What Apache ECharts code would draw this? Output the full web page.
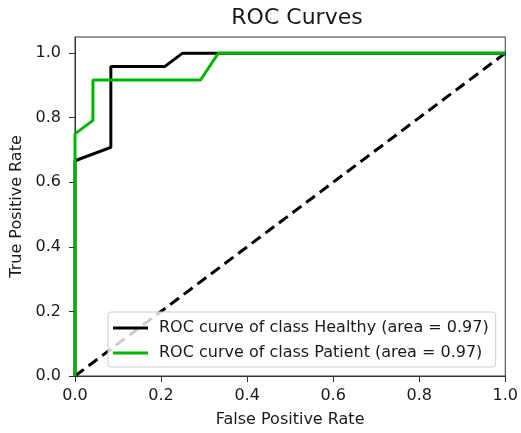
<!DOCTYPE html>
<html>
<head>
<meta charset="utf-8">
<script src="https://cdn.jsdelivr.net/npm/echarts@6/dist/echarts.min.js"></script>
<style>
  html, body { margin: 0; padding: 0; background: #fff; }
  #chart { width: 521px; height: 433px; }
</style>
</head>
<body>
<div id="chart"></div>
<script>
// ROC curve points per class (false positive rate, true positive rate)
const healthyFpr = [0, 0, 0.0833, 0.0833, 0.2083, 0.25, 1.0];
const healthyTpr = [0, 0.6667, 0.7083, 0.9583, 0.9583, 1.0, 1.0];
const patientFpr = [0, 0, 0.0417, 0.0417, 0.2917, 0.3333, 1.0];
const patientTpr = [0, 0.75, 0.7917, 0.9167, 0.9167, 1.0, 1.0];
const chanceLine = [[0, 0], [1, 1]];

const seriesNames = [
  'ROC curve of class Healthy (area = 0.97)',
  'ROC curve of class Patient (area = 0.97)'
];
const tickValues = [0, 0.2, 0.4, 0.6, 0.8, 1.0];

const zip = (xs, ys) => xs.map((x, i) => [x, ys[i]]);
const FONT = 'DejaVu Sans';
const TEXT = '#1a1a1a';

const chart = echarts.init(document.getElementById('chart'));
chart.setOption({
  animation: false,
  textStyle: { fontFamily: FONT },
  title: {
    text: 'ROC Curves',
    left: 292, top: 2, textAlign: 'center',
    textStyle: { fontFamily: FONT, fontSize: 22, fontWeight: 'normal', color: TEXT }
  },
  grid: {
    left: 75, right: 13, top: 37, bottom: 57,
    show: true, borderColor: '#333', borderWidth: 1, backgroundColor: 'transparent'
  },
  xAxis: {
    type: 'value', min: 0, max: 1, interval: 0.2,
    name: 'False Positive Rate', nameLocation: 'middle', nameGap: 36,
    nameTextStyle: { fontFamily: FONT, fontSize: 16, color: TEXT },
    axisLine: { show: true, onZero: false, lineStyle: { color: '#333', width: 1 } },
    axisTick: { show: true, inside: false, length: 6, lineStyle: { color: '#333' } },
    axisLabel: { fontFamily: FONT, fontSize: 16, color: TEXT, margin: 12,
                 formatter: v => v.toFixed(1) },
    splitLine: { show: false }
  },
  yAxis: {
    type: 'value', min: 0, max: 1.05, interval: 0.2,
    name: 'True Positive Rate', nameLocation: 'middle', nameGap: 48, nameRotate: 90,
    nameTextStyle: { fontFamily: FONT, fontSize: 16, color: TEXT },
    axisLine: { show: true, onZero: false, lineStyle: { color: '#333', width: 1 } },
    axisTick: { show: true, inside: false, length: 6, lineStyle: { color: '#333' },
                customValues: tickValues },
    axisLabel: { fontFamily: FONT, fontSize: 16, color: TEXT, margin: 14,
                 customValues: tickValues, formatter: v => v.toFixed(1) },
    splitLine: { show: false }
  },
  legend: {
    orient: 'vertical',
    left: 108, top: 312,
    data: seriesNames.map(n => ({ name: n, icon: 'rect' })),
    itemWidth: 35, itemHeight: 3, itemGap: 9,
    padding: [8, 7, 6, 5],
    backgroundColor: 'rgba(255,255,255,0.8)',
    borderColor: '#cccccc', borderWidth: 1, borderRadius: 3,
    textStyle: { fontFamily: FONT, fontSize: 16, color: TEXT, padding: [0, 0, 0, 6] }
  },
  series: [
    {
      name: 'chance',
      type: 'line', data: chanceLine, symbol: 'none', silent: true, z: 1,
      lineStyle: { color: '#000', width: 3, type: [11, 6] }
    },
    {
      name: seriesNames[0],
      type: 'line', data: zip(healthyFpr, healthyTpr), symbol: 'none', z: 2,
      itemStyle: { color: '#000' },
      lineStyle: { color: '#000', width: 3 }
    },
    {
      name: seriesNames[1],
      type: 'line', data: zip(patientFpr, patientTpr), symbol: 'none', z: 3,
      itemStyle: { color: '#00b400' },
      lineStyle: { color: '#00b400', width: 3 }
    }
  ]
});
</script>
</body>
</html>
